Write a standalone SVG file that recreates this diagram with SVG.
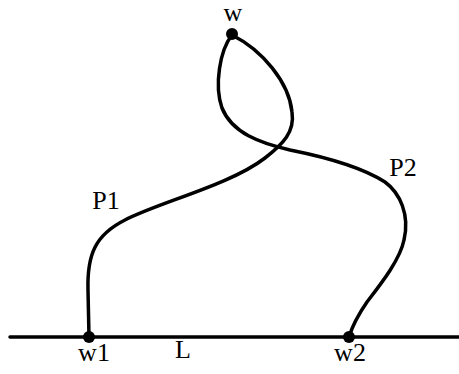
<svg xmlns="http://www.w3.org/2000/svg" width="459" height="374" viewBox="0 0 459 374">
<style>
.c{fill:none;stroke:#000;stroke-width:3.5;stroke-linecap:round;stroke-linejoin:round}
.d{fill:#000}
text{font-family:"Liberation Serif","Times New Roman",serif;font-size:26px;fill:#000}
</style>
<rect width="459" height="374" fill="#fff"/>
<g id="connectors">
<path id="L" class="c" d="M 10,337 L 459,337" stroke-width="3"/>
<path id="P1" class="c" d="M 89,337 L 88,290 C 87,255 95,235 125,220 C 160,202 230,185 265,158 C 283,144 295,132 292,112 C 289,82 262,50 232,35"/>
<path id="P2" class="c" d="M 232,35 C 220,50 214,85 222,108 C 232,133 260,143 290,150 C 320,156 360,166 385,182 C 400,193 410,215 404,240 C 400,260 380,285 367,302 C 358,315 352,327 349,337"/>
</g>
<g id="w"><circle class="d" cx="232" cy="34" r="6"/><text x="233" y="21" text-anchor="middle">w</text></g>
<g id="w1"><circle class="d" cx="89" cy="337" r="6"/><text x="94" y="361" text-anchor="middle">w1</text></g>
<g id="w2"><circle class="d" cx="349" cy="337" r="6"/><text x="350" y="361" text-anchor="middle">w2</text></g>
<text x="183" y="358" text-anchor="middle">L</text>
<text x="106" y="209" text-anchor="middle">P1</text>
<text x="403" y="176" text-anchor="middle">P2</text>
</svg>
